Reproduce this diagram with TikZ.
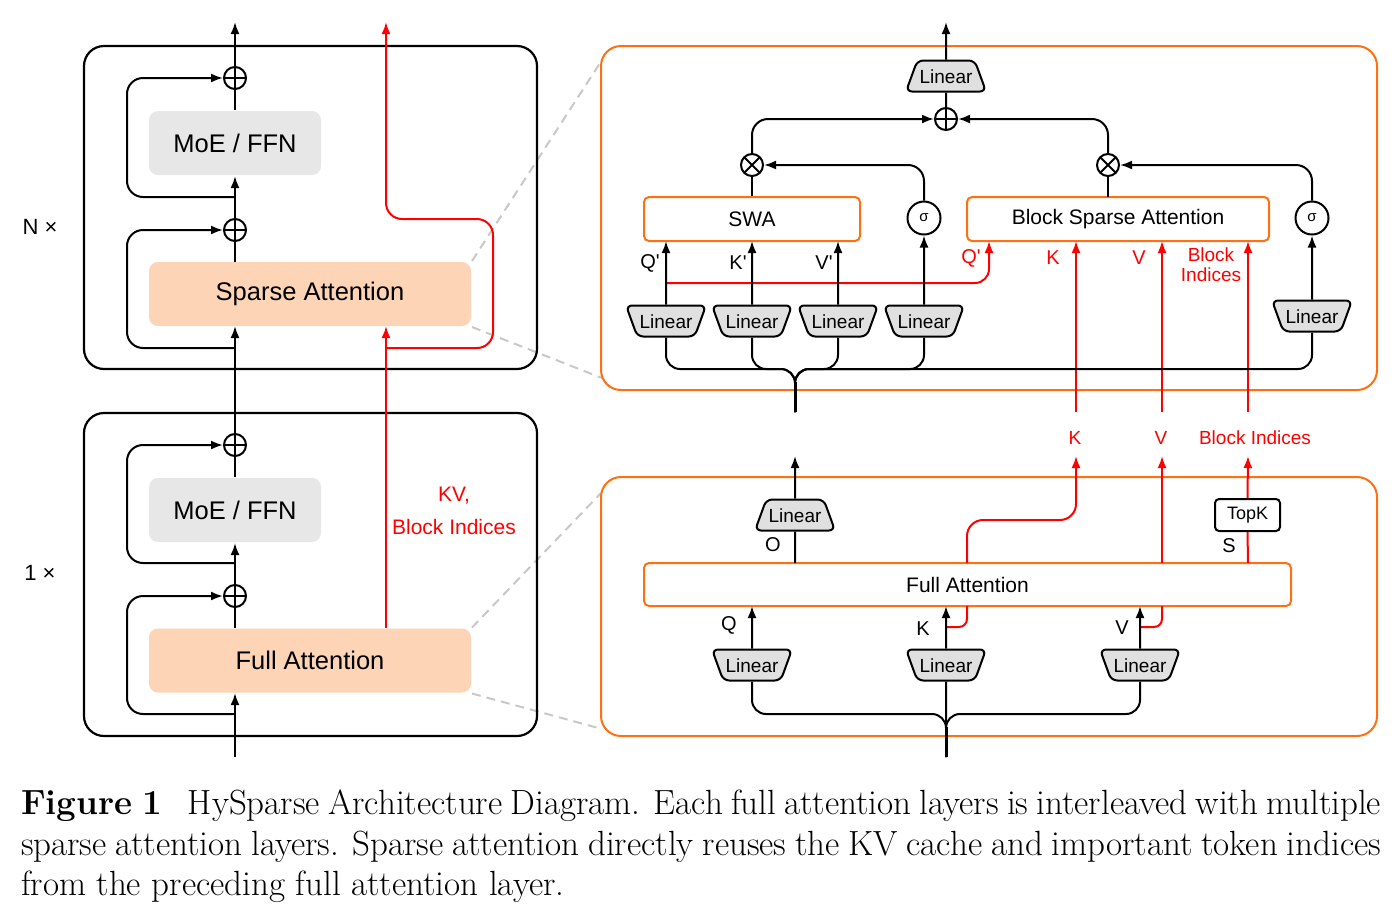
\documentclass[tikz,border=0pt]{standalone}
\usepackage{fontspec}
\newfontfamily\sansf{Liberation Sans}
\usetikzlibrary{arrows.meta,shapes.geometric}
\definecolor{orng}{RGB}{255,112,18}
\definecolor{peach}{RGB}{253,212,182}
\definecolor{moegrey}{RGB}{231,231,231}
\definecolor{lingrey}{RGB}{224,224,224}
\definecolor{dashgrey}{RGB}{200,200,200}
\definecolor{redl}{RGB}{255,0,0}
\begin{document}
\begin{tikzpicture}[x=1pt,y=-1pt,line width=2pt,>={Latex[length=12pt,width=9pt]},
  lab/.style={inner sep=0pt,font=\sansf\fontsize{20}{24}\selectfont},
  redlab/.style={inner sep=0pt,text=redl,font=\sansf\fontsize{19}{20}\selectfont},
  bigbox/.style={rounded corners=9pt,minimum height=64pt,inner sep=0pt,font=\sansf\fontsize{25.5}{30}\selectfont},
  opl/.style={circle,draw,minimum size=22pt,inner sep=0pt,fill=white,
    path picture={\draw[line width=2pt] (path picture bounding box.north) -- (path picture bounding box.south)
      (path picture bounding box.west) -- (path picture bounding box.east);}},
  otm/.style={circle,draw,minimum size=22pt,inner sep=0pt,fill=white,
    path picture={\draw[line width=2pt] (path picture bounding box.north west) -- (path picture bounding box.south east)
      (path picture bounding box.south west) -- (path picture bounding box.north east);}},
  sig/.style={circle,draw,minimum size=33pt,inner sep=0pt,fill=white,font=\sansf\fontsize{15}{16}\selectfont},
  linin/.style={trapezium,trapezium left angle=110,trapezium right angle=110,trapezium stretches body=true,
    minimum width=80pt,text height=14pt,text depth=0pt,inner xsep=0pt,inner ysep=8.5pt,
    draw,fill=lingrey,rounded corners=6pt,font=\sansf\fontsize{19}{22}\selectfont},
  linout/.style={linin,trapezium left angle=70,trapezium right angle=70},
  attbox/.style={draw=orng,fill=white,rounded corners=5pt,minimum height=44pt,inner sep=0pt,
    font=\sansf\fontsize{21}{24}\selectfont},
  topkbox/.style={draw,fill=white,rounded corners=4pt,minimum width=65pt,minimum height=32pt,inner sep=0pt,
    font=\sansf\fontsize{18}{20}\selectfont},
  conn/.style={rounded corners=16pt},
  redc/.style={draw=redl,rounded corners=16pt},
  guide/.style={draw=dashgrey,line width=2pt,dash pattern=on 9pt off 6pt}
]
\useasboundingbox (0,0) rectangle (1399,922);

% ---------------- left panel ----------------
\node[lab,font=\sansf\fontsize{22}{24}\selectfont] (nx) at (40,227) {N ×};
\node[lab,font=\sansf\fontsize{22}{24}\selectfont] (onex) at (40,573) {1 ×};

\node[bigbox,fill=peach,minimum width=322pt] (sa) at (310,294) {Sparse Attention};
\node[bigbox,fill=peach,minimum width=322pt] (fa) at (310,660.5) {Full Attention};
\node[bigbox,fill=moegrey,minimum width=172pt] (moeB) at (235,143) {MoE / FFN};
\node[bigbox,fill=moegrey,minimum width=172pt] (moeA) at (235,510) {MoE / FFN};
\node[opl] (oD) at (235,78) {};
\node[opl] (oC) at (235,230) {};
\node[opl] (oB) at (235,445) {};
\node[opl] (oA) at (235,596) {};
\coordinate (inL) at (235,757);
\coordinate (outL) at (235,22);
\coordinate (redOut) at (386,22);

% dashed zoom guides
\coordinate (g1) at (602,60);
\coordinate (g2) at (602,378);
\coordinate (g3) at (601,493);
\coordinate (g4) at (602,729);
\draw[guide] (sa.north east) -- (g1);
\draw[guide] (sa.south east) -- (g2);
\draw[guide] (fa.north east) -- (g3);
\draw[guide] (fa.south east) -- (g4);

% outer blocks
\draw[line width=2.2pt,rounded corners=20pt] (84,46) rectangle (537,369);
\draw[line width=2.2pt,rounded corners=20pt] (84,413) rectangle (537,736);

% main stream
\draw[->] (inL) -- (235,693);
\draw (235,628) -- (oA.south);
\draw[->] (oA.north) -- (moeA.south);
\draw (moeA.north) -- (oB.south);
\draw[->] (oB.north) -- (235,326);
\draw (235,262) -- (oC.south);
\draw[->] (oC.north) -- (moeB.south);
\draw (moeB.north) -- (oD.south);
\draw[->] (oD.north) -- (outL);

% residual loops
\draw[->,conn] (235,714) -- (127,714) -- (127,596) -- (oA.west);
\draw[->,conn] (235,563) -- (127,563) -- (127,445) -- (oB.west);
\draw[->,conn] (235,348) -- (127,348) -- (127,230) -- (oC.west);
\draw[->,conn] (235,197) -- (127,197) -- (127,78) -- (oD.west);

% red KV path
\draw[->,redc] (386,628) -- (386,326);
\draw[->,redc] (386,348) -- (493,348) -- (493,219) -- (386,219) -- (redOut);
\node[lab,text=redl,font=\sansf\fontsize{21}{33}\selectfont,align=center] (kvlab) at (454,511) {KV,\\Block Indices};

% ---------------- right top panel ----------------
\draw[draw=orng,rounded corners=20pt] (601,46) rectangle (1377,390);

\node[linout] (tlin) at (946,76) {Linear};
\node[opl] (oR) at (946,119) {};
\node[otm] (xA) at (752,165) {};
\node[otm] (xB) at (1108,165) {};
\node[attbox,minimum width=216pt] (swa) at (752,219) {SWA};
\node[attbox,minimum width=302pt] (bsa) at (1118,219) {Block Sparse Attention};
\node[sig] (sA) at (924,218) {σ};
\node[sig] (sB) at (1312,218) {σ};
\node[linin] (l1) at (666,321) {Linear};
\node[linin] (l2) at (752,321) {Linear};
\node[linin] (l3) at (838,321) {Linear};
\node[linin] (l4) at (924,321) {Linear};
\node[linin] (l5) at (1312,316) {Linear};
\coordinate (tOut) at (946,22);
\coordinate (tIn) at (795,412);
\coordinate (kT) at (1076,412);
\coordinate (vT) at (1162,412);
\coordinate (biT) at (1248,412);

\draw[->] (tlin.north) -- (tOut);
\draw (oR.north) -- (tlin.south);
\draw[->,conn] (xA.north) -- (752,119) -- (oR.west);
\draw[->,conn] (xB.north) -- (1108,119) -- (oR.east);
\draw (swa.north) -- (xA.south);
\draw (1108,197) -- (xB.south);
\draw[->,conn] (sA.north) -- (924,165) -- (xA.east);
\draw[->,conn] (sB.north) -- (1312,165) -- (xB.east);

% red into block sparse attention
\draw[->,redc,rounded corners=14pt] (666,283) -- (989,283) -- (989,241);
\draw[->,redc] (kT) -- (1076,241);
\draw[->,redc] (vT) -- (1162,241);
\draw[->,redc] (biT) -- (1248,241);

\draw[->] (l1.north) -- (666,241);
\draw[->] (l2.north) -- (752,241);
\draw[->] (l3.north) -- (838,241);
\draw[->] (l4.north) -- (sA.south);
\draw[->] (l5.north) -- (sB.south);

\node[lab] (lq1) at (650,263) {Q\textquotesingle};
\node[lab] (lk1) at (738,263) {K\textquotesingle};
\node[lab] (lv1) at (824,263) {V\textquotesingle};
\node[lab,text=redl] (lq2) at (971,258) {Q\textquotesingle};
\node[lab,text=redl] (lk2) at (1053,258) {K};
\node[lab,text=redl] (lv2) at (1139,258) {V};
\node[redlab,align=center] (lbi2) at (1211,265) {Block\\Indices};

% input split
\draw[conn,rounded corners=14pt] (tIn) -- (795,369) -- (666,369) -- (l1.south);
\draw[conn,rounded corners=14pt] (tIn) -- (795,369) -- (752,369) -- (l2.south);
\draw[conn,rounded corners=14pt] (tIn) -- (795,369) -- (838,369) -- (l3.south);
\draw[conn,rounded corners=14pt] (tIn) -- (795,369) -- (924,369) -- (l4.south);
\draw[conn,rounded corners=14pt] (tIn) -- (795,369) -- (1312,369) -- (l5.south);
\draw[line width=3pt] (tIn) -- (795,382);

% middle red labels
\node[redlab] (mk) at (1075,438) {K};
\node[redlab] (mv) at (1161,438) {V};
\node[redlab] (mbi) at (1255,438) {Block Indices};

% ---------------- right bottom panel ----------------
\draw[draw=orng,rounded corners=20pt] (601,477) rectangle (1377,736);

\node[attbox,minimum width=647pt,minimum height=43pt] (fab) at (967.5,584.5) {Full Attention};
\node[linout] (olin) at (795,515) {Linear};
\node[topkbox] (tk) at (1247.5,515) {TopK};
\node[linin] (lq) at (752,665) {Linear};
\node[linin] (lk) at (946,665) {Linear};
\node[linin] (lv) at (1140,665) {Linear};
\coordinate (bIn) at (946,757);
\coordinate (bOut) at (795,456);

\draw (795,563) -- (olin.south);
\draw[->] (olin.north) -- (bOut);
\node[lab] (lo) at (773,545) {O};

\draw[redc] (1248,563) -- (tk.south);
\draw[->,redc] (tk.north) -- (1248,456);
\node[lab] (ls) at (1229,546) {S};
\draw[->,redc] (1162,563) -- (1162,456);
\draw[->,redc] (967,563) -- (967,520) -- (1076,520) -- (1076,456);
\draw[redc,rounded corners=8pt] (946,627) -- (967,627) -- (967,606);
\draw[redc,rounded corners=8pt] (1140,627) -- (1162,627) -- (1162,606);

\draw[->] (lq.north) -- (752,606);
\draw[->] (lk.north) -- (946,606);
\draw[->] (lv.north) -- (1140,606);
\node[lab] (lq0) at (729,625) {Q};
\node[lab] (lk0) at (923,629) {K};
\node[lab] (lv0) at (1122,628) {V};

\draw[conn,rounded corners=14pt] (bIn) -- (946,714) -- (752,714) -- (lq.south);
\draw[conn,rounded corners=14pt] (bIn) -- (946,714) -- (1140,714) -- (lv.south);
\draw (bIn) -- (lk.south);
\draw[line width=3pt] (bIn) -- (946,727);

% ---------------- caption ----------------
\node[anchor=north west,inner sep=0pt,text width=1360pt,align=justify,
  font=\fontsize{35}{40.5}\selectfont] (cap) at (20,789)
  {\textbf{Figure 1}\hspace{0.5em} HySparse Architecture Diagram. Each full attention layers is interleaved with multiple\linebreak
   sparse attention layers. Sparse attention directly reuses the KV cache and important token indices\linebreak
   from the preceding full attention layer.};
\end{tikzpicture}
\end{document}
